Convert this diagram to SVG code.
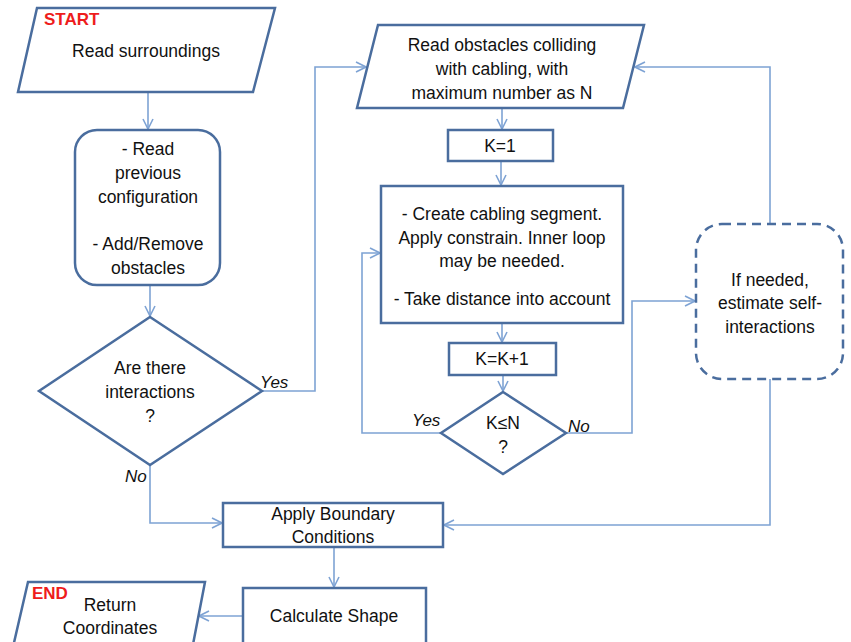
<svg xmlns="http://www.w3.org/2000/svg" width="851" height="642" viewBox="0 0 851 642">
<style>
.node{fill:#fff;stroke:#4a6d9e;stroke-width:2.5}
.dash{fill:#fff;stroke:#4a6d9e;stroke-width:2.5;stroke-dasharray:9 6}
.c{fill:none;stroke:#7ea3d4;stroke-width:1.6}
text{font-family:"Liberation Sans",Arial,sans-serif;font-size:17.5px;fill:#111;text-anchor:middle}
.red{fill:#ee1c1c;font-weight:bold;text-anchor:start;font-size:17px}
.lbl{font-style:italic;font-size:17px;text-anchor:start}
</style>
<defs>
<marker id="a" viewBox="0 0 12 12" refX="11" refY="6" markerWidth="12" markerHeight="12" markerUnits="userSpaceOnUse" orient="auto">
<path d="M1,1 L11,6 L1,11" fill="none" stroke="#7ea3d4" stroke-width="1.6"/>
</marker>
</defs>
<g id="connectors">
<path class="c" d="M148,92 V129" marker-end="url(#a)"/>
<path class="c" d="M150,285 V316" marker-end="url(#a)"/>
<path class="c" d="M262,391 H315 V67 H366" marker-end="url(#a)"/>
<path class="c" d="M150,465 V523 H222" marker-end="url(#a)"/>
<path class="c" d="M502,108 V129" marker-end="url(#a)"/>
<path class="c" d="M501,161 V185" marker-end="url(#a)"/>
<path class="c" d="M502,323 V342" marker-end="url(#a)"/>
<path class="c" d="M503,375 V391" marker-end="url(#a)"/>
<path class="c" d="M441,433 H362 V253 H380" marker-end="url(#a)"/>
<path class="c" d="M566,433 H632 V301 H695" marker-end="url(#a)"/>
<path class="c" d="M770,224 V67 H635" marker-end="url(#a)"/>
<path class="c" d="M770,379 V525 H444" marker-end="url(#a)"/>
<path class="c" d="M334,547 V587" marker-end="url(#a)"/>
<path class="c" d="M243,616 H199" marker-end="url(#a)"/>
</g>
<g id="start">
<polygon class="node" points="37,8 275,8 253,92 18,92"/>
<text class="red" x="44" y="25">START</text>
<text x="146" y="57">Read surroundings</text>
</g>
<g id="read-config">
<rect class="node" x="75" y="130" width="145" height="155" rx="22"/>
<text x="148" y="155">- Read</text>
<text x="148" y="179">previous</text>
<text x="148" y="203">configuration</text>
<text x="148" y="250">- Add/Remove</text>
<text x="148" y="274">obstacles</text>
</g>
<g id="decision-interactions">
<polygon class="node" points="150,317 262,391 150,465 39,391"/>
<text x="150" y="374">Are there</text>
<text x="150" y="398">interactions</text>
<text x="150" y="422">?</text>
<text class="lbl" x="260" y="388">Yes</text>
<text class="lbl" x="125" y="482">No</text>
</g>
<g id="read-obstacles">
<polygon class="node" points="378,25 644,25 623,108 357,108"/>
<text x="502" y="51">Read obstacles colliding</text>
<text x="502" y="75">with cabling, with</text>
<text x="502" y="99">maximum number as N</text>
</g>
<g id="k1">
<rect class="node" x="448" y="130" width="105" height="31"/>
<text x="500" y="152">K=1</text>
</g>
<g id="segment">
<rect class="node" x="381" y="186" width="242" height="137"/>
<text x="502" y="220">- Create cabling segment.</text>
<text x="502" y="244">Apply constrain. Inner loop</text>
<text x="502" y="267">may be needed.</text>
<text x="502" y="305">- Take distance into account</text>
</g>
<g id="kinc">
<rect class="node" x="449" y="343" width="107" height="32"/>
<text x="502" y="365">K=K+1</text>
</g>
<g id="decision-k">
<polygon class="node" points="503,392 566,433 503,474 441,433"/>
<text x="503" y="429">K≤N</text>
<text x="503" y="453">?</text>
<text class="lbl" x="412" y="426">Yes</text>
<text class="lbl" x="568" y="432">No</text>
</g>
<g id="self-interactions">
<rect class="dash" x="696" y="224" width="147" height="155" rx="26"/>
<text x="770" y="286">If needed,</text>
<text x="770" y="309">estimate self-</text>
<text x="770" y="333">interactions</text>
</g>
<g id="boundary">
<rect class="node" x="223" y="503" width="220" height="44"/>
<text x="333" y="520">Apply Boundary</text>
<text x="333" y="543">Conditions</text>
</g>
<g id="calc">
<rect class="node" x="243" y="588" width="183" height="60"/>
<text x="334" y="622">Calculate Shape</text>
</g>
<g id="end">
<polygon class="node" points="28,582 205,582 190,660 10,660"/>
<text class="red" x="32" y="599">END</text>
<text x="110" y="611">Return</text>
<text x="110" y="634">Coordinates</text>
</g>
</svg>
